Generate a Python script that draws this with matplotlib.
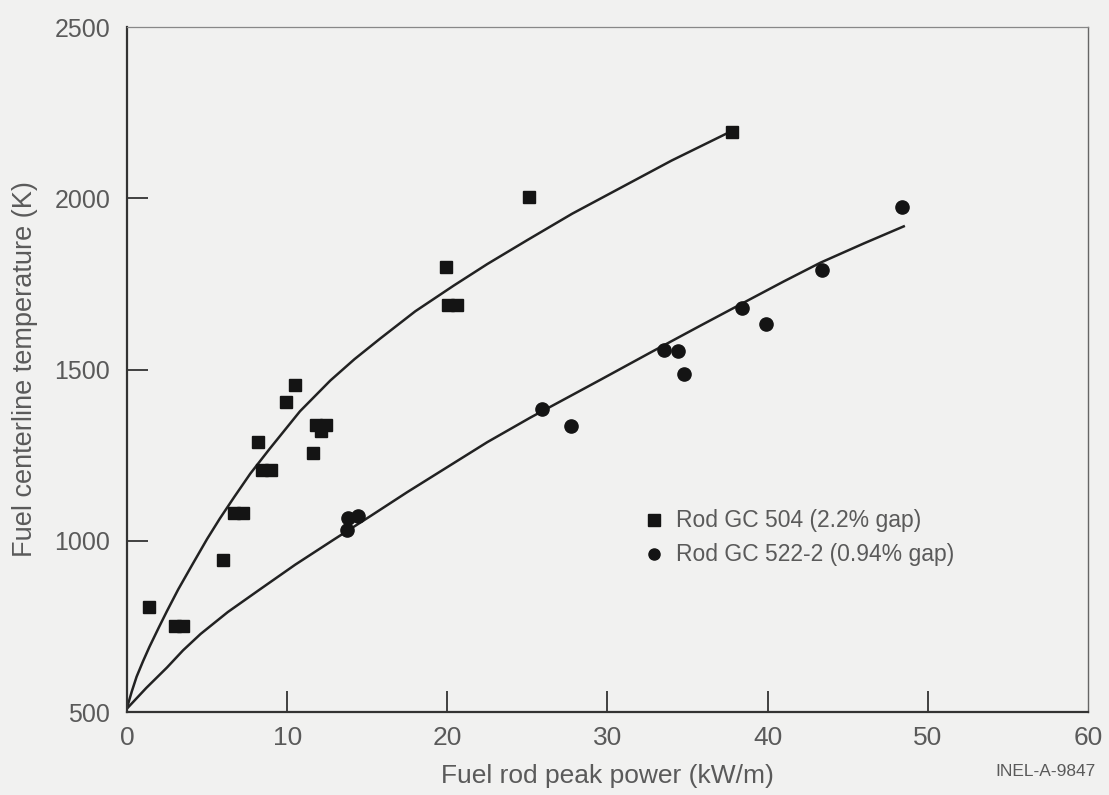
import matplotlib.pyplot as plt

# --- data ---
# Rod GC 504 (2.2% gap), squares
gc504_power = [1.4, 3.0, 3.5, 6.0, 6.7, 7.25, 8.2, 8.45, 9.0, 9.9, 10.5, 11.6,
               11.8, 12.1, 12.4, 19.9, 20.05, 20.6, 25.1, 37.8]
gc504_temp = [807, 751, 751, 944, 1082, 1082, 1289, 1208, 1208, 1406, 1456, 1257,
              1339, 1320, 1339, 1798, 1687, 1687, 2003, 2193]

# Rod GC 522-2 (0.94% gap), circles
gc522_power = [13.75, 13.8, 14.4, 25.9, 27.7, 33.5, 34.4, 34.75, 38.4, 39.9, 43.4, 48.4]
gc522_temp = [1032, 1067, 1073, 1386, 1336, 1556, 1553, 1488, 1681, 1632, 1792, 1974]

# fitted curves (traced)
fit504_power = [0, 0.3, 0.6, 1.0, 1.4, 2.0, 2.5, 3.2, 4.1, 5.0, 5.8, 6.7, 7.7, 8.9,
                10.8, 12.7, 14.2, 15.8, 18.0, 20.4, 22.5, 25.0, 27.8, 30.8, 34.0, 37.7]
fit504_temp = [512, 560, 603, 648, 690, 748, 795, 858, 932, 1005, 1065, 1128, 1196, 1268,
               1378, 1468, 1530, 1590, 1670, 1745, 1808, 1878, 1955, 2030, 2110, 2195]

fit522_power = [0, 1.2, 2.5, 3.5, 4.6, 6.3, 8.3, 10.5, 12.9, 15.2, 17.5, 20.0, 22.5,
                25.2, 27.5, 29.6, 32.7, 35.8, 38.9, 41.0, 43.3, 46.0, 48.5]
fit522_temp = [510, 570, 630, 680, 728, 792, 858, 930, 1003, 1072, 1142, 1215, 1288,
               1360, 1418, 1471, 1550, 1628, 1705, 1757, 1812, 1868, 1918]

x_ticks = [0, 10, 20, 30, 40, 50, 60]
y_ticks = [500, 1000, 1500, 2000, 2500]

BG = '#f1f1f0'
TXT = '#5a5a5a'
INK = '#141414'

plt.rcParams['font.family'] = ['Liberation Sans', 'DejaVu Sans']

fig = plt.figure(figsize=(11.09, 7.95), dpi=100, facecolor=BG)
ax = fig.add_axes([0.1145, 0.1044, 0.8665, 0.8616], facecolor=BG)

ax.plot(fit504_power, fit504_temp, color='#222222', lw=1.8, zorder=2)
ax.plot(fit522_power, fit522_temp, color='#222222', lw=1.8, zorder=2)

ax.plot(gc504_power, gc504_temp, 's', color=INK, ms=9, ls='none', zorder=3)
ax.plot(gc522_power, gc522_temp, 'o', color=INK, ms=9.5, ls='none', zorder=3)

ax.set_xlim(0, 60)
ax.set_ylim(500, 2500)
ax.set_xticks(x_ticks)
ax.set_yticks(y_ticks)

ax.set_xticklabels([str(v) for v in x_ticks], fontsize=19, color=TXT)
ax.set_yticklabels([str(v) for v in y_ticks], fontsize=18, color=TXT)
ax.tick_params(axis='both', direction='in', length=15, width=1.3, color='#333333')
ax.tick_params(axis='x', pad=10)
ax.tick_params(axis='y', pad=12)

# tick marks only on the inner values, as in the original
for t in ax.xaxis.get_major_ticks()[::len(x_ticks) - 1]:
    t.tick1line.set_visible(False)
for t in ax.yaxis.get_major_ticks()[::len(y_ticks) - 1]:
    t.tick1line.set_visible(False)

for side in ['left', 'bottom']:
    ax.spines[side].set_color('#333333')
    ax.spines[side].set_linewidth(1.6)
ax.spines['right'].set_color('#666666')
ax.spines['right'].set_linewidth(1.0)
ax.spines['top'].set_color('#888888')
ax.spines['top'].set_linewidth(0.9)

ax.set_xlabel('Fuel rod peak power (kW/m)', fontsize=19, color=TXT, labelpad=10)
ax.set_ylabel('Fuel centerline temperature (K)', fontsize=19.5, color=TXT, labelpad=12)

# legend drawn as text + markers
ax.plot([32.9], [1060], 's', color=INK, ms=8, clip_on=False)
ax.plot([32.9], [960], 'o', color=INK, ms=8, clip_on=False)
ax.text(34.3, 1060, 'Rod GC 504 (2.2% gap)', fontsize=16.5, color=TXT, va='center')
ax.text(34.3, 960, 'Rod GC 522-2 (0.94% gap)', fontsize=16.5, color=TXT, va='center')

fig.text(0.988, 0.02, 'INEL-A-9847', fontsize=12.5, color=TXT, ha='right', va='bottom')

fig.savefig('out.png', dpi=100, facecolor=BG)
